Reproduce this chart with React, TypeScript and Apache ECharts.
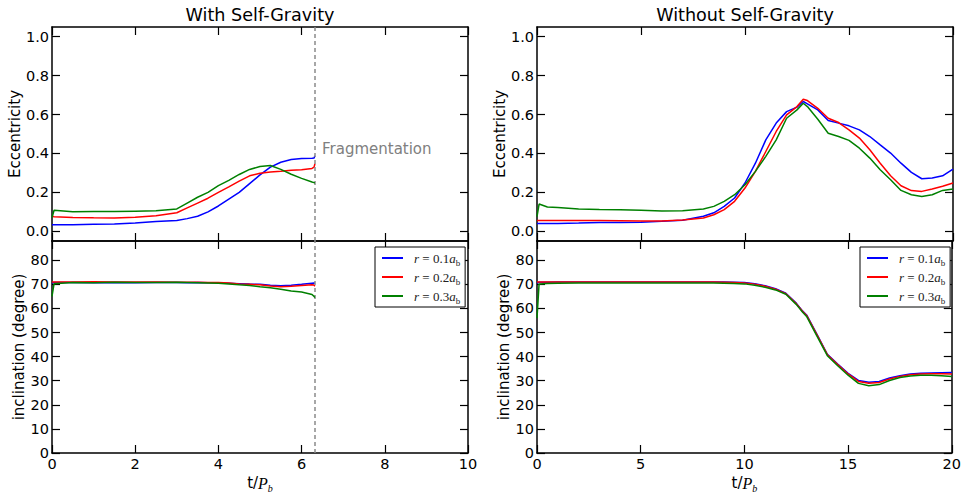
import React, { useEffect, useRef } from "react";
import * as echarts from "echarts";

// ---- time samples ----
const tLeft = [0, 0.05, 0.5, 1, 1.5, 2, 2.5, 3, 3.25, 3.5, 3.75, 4, 4.25, 4.5, 4.75, 5, 5.25, 5.5, 5.75, 6, 6.25, 6.3, 6.32];
const tRight = [0, 0.1, 0.5, 1, 2, 3, 4, 5, 6, 7, 8, 8.5, 9, 9.5, 10, 10.5, 11, 11.5, 12, 12.5, 12.8, 13, 13.5, 14, 14.5, 15, 15.5, 16, 16.5, 17, 17.5, 18, 18.5, 19, 19.5, 20];

// ---- With self-gravity: eccentricity ----
const eccLeft01 = [0.034, 0.034, 0.034, 0.036, 0.038, 0.042, 0.05, 0.055, 0.065, 0.077, 0.1, 0.13, 0.165, 0.2, 0.245, 0.29, 0.33, 0.355, 0.369, 0.374, 0.375, 0.377, 0.388];
const eccLeft02 = [0.077, 0.075, 0.071, 0.069, 0.068, 0.072, 0.08, 0.095, 0.12, 0.145, 0.17, 0.2, 0.228, 0.258, 0.285, 0.298, 0.305, 0.308, 0.314, 0.316, 0.323, 0.33, 0.347];
const eccLeft03 = [0.07, 0.108, 0.1, 0.101, 0.101, 0.103, 0.105, 0.115, 0.145, 0.175, 0.2, 0.235, 0.262, 0.292, 0.318, 0.333, 0.338, 0.318, 0.293, 0.272, 0.253, 0.25, 0.25];

// ---- With self-gravity: inclination ----
const incLeft01 = [70.5, 70.8, 70.8, 70.7, 70.8, 70.7, 70.8, 70.8, 70.7, 70.8, 70.7, 70.7, 70.5, 70.3, 70.1, 70.0, 69.6, 69.4, 69.6, 70.0, 70.5, 70.6, 70.3];
const incLeft02 = [71.0, 71.0, 71.0, 71.1, 71.0, 71.0, 71.0, 70.9, 70.9, 70.9, 70.8, 70.8, 70.6, 70.2, 70.0, 69.8, 69.3, 69.0, 69.2, 69.5, 69.8, 69.7, 69.2];
const incLeft03 = [65.0, 70.3, 70.8, 70.7, 70.9, 70.8, 70.8, 70.9, 70.8, 70.7, 70.6, 70.5, 70.2, 69.8, 69.5, 69.0, 68.6, 68.0, 67.2, 66.8, 65.8, 65.0, 64.5];

// ---- Without self-gravity: eccentricity ----
const eccRight01 = [0.04, 0.04, 0.04, 0.04, 0.042, 0.045, 0.045, 0.046, 0.051, 0.057, 0.077, 0.095, 0.128, 0.171, 0.248, 0.35, 0.47, 0.556, 0.615, 0.638, 0.667, 0.655, 0.624, 0.569, 0.556, 0.542, 0.521, 0.487, 0.444, 0.402, 0.35, 0.303, 0.27, 0.274, 0.285, 0.32];
const eccRight02 = [0.055, 0.055, 0.055, 0.056, 0.056, 0.055, 0.054, 0.053, 0.053, 0.058, 0.068, 0.085, 0.111, 0.154, 0.222, 0.308, 0.41, 0.513, 0.598, 0.641, 0.679, 0.672, 0.632, 0.581, 0.559, 0.521, 0.479, 0.419, 0.35, 0.285, 0.234, 0.209, 0.205, 0.217, 0.231, 0.248];
const eccRight03 = [0.075, 0.14, 0.125, 0.122, 0.115, 0.112, 0.111, 0.108, 0.104, 0.106, 0.115, 0.128, 0.154, 0.188, 0.239, 0.308, 0.385, 0.47, 0.581, 0.624, 0.658, 0.641, 0.576, 0.504, 0.487, 0.467, 0.427, 0.376, 0.316, 0.265, 0.21, 0.188, 0.179, 0.188, 0.21, 0.217];

// ---- Without self-gravity: inclination ----
const incRight01 = [70.5, 70.9, 70.9, 71.0, 71.0, 71.0, 71.0, 71.0, 71.0, 71.0, 71.0, 71.0, 71.0, 70.9, 70.8, 70.3, 69.4, 68.2, 66.3, 62.2, 59.0, 57.3, 49.2, 41.0, 36.9, 33.1, 30.1, 29.4, 29.7, 31.1, 32.1, 32.8, 33.1, 33.2, 33.3, 33.4];
const incRight02 = [71.0, 71.0, 71.0, 71.0, 71.0, 71.0, 71.0, 71.0, 71.0, 71.0, 71.0, 71.0, 70.9, 70.8, 70.6, 70.1, 69.2, 68.0, 66.1, 62.0, 58.8, 57.1, 49.0, 40.8, 36.7, 32.8, 29.7, 29.0, 29.3, 30.7, 31.8, 32.5, 32.8, 32.9, 32.9, 32.8];
const incRight03 = [56.0, 70.2, 70.4, 70.5, 70.6, 70.6, 70.6, 70.6, 70.6, 70.6, 70.6, 70.6, 70.5, 70.4, 70.2, 69.6, 68.8, 67.7, 65.9, 61.7, 58.5, 56.7, 48.5, 40.4, 36.2, 32.3, 28.9, 27.9, 28.4, 30.1, 31.3, 32.0, 32.3, 32.3, 32.1, 31.8];

const seriesNames = ["r=0.1a_b", "r=0.2a_b", "r=0.3a_b"];
const radii = ["0.1", "0.2", "0.3"];
const colors = ["#0000ff", "#ff0000", "#008000"];
const eccTicks = [0, 0.2, 0.4, 0.6, 0.8, 1.0];
const incTicks = [0, 10, 20, 30, 40, 50, 60, 70, 80];
const fragmentationTime = 6.32;
const titles = ["With Self-Gravity", "Without Self-Gravity"];

const zip = (t: number[], v: number[]) => t.map((x, i) => [x, v[i]]);

const FONT = "DejaVu Sans";
const SERIF = "Liberation Serif";

export default function App() {
  const ref = useRef<HTMLDivElement>(null);
  useEffect(() => {
    if (!ref.current) return;
    const chart = echarts.init(ref.current, undefined, { renderer: "svg" });

    const grids = [
      { left: 52, top: 27, width: 416, height: 214 },
      { left: 52, top: 241, width: 416, height: 215 },
      { left: 537, top: 27, width: 416, height: 214 },
      { left: 537, top: 241, width: 416, height: 215 },
    ];
    const lineStyle = { color: "#000", width: 1.5 };
    const tick = { show: true, inside: true, length: 8, lineStyle: { color: "#000", width: 1.2 } };
    const xName = {
      rich: {
        n: { fontFamily: FONT, fontSize: 15, color: "#000", lineHeight: 20 },
        p: { fontFamily: SERIF, fontStyle: "italic", fontSize: 16, color: "#000", lineHeight: 20 },
        s: { fontFamily: SERIF, fontStyle: "italic", fontSize: 10, color: "#000", lineHeight: 11, verticalAlign: "bottom" },
      },
    };
    const xAxes: any[] = [];
    const yAxes: any[] = [];
    for (let g = 0; g < 4; g++) {
      const right = g >= 2;
      const bottom = g % 2 === 1;
      const xmax = right ? 20 : 10;
      const xint = right ? 5 : 2;
      xAxes.push({
        type: "value", gridIndex: g, position: "bottom", min: 0, max: xmax, interval: xint,
        axisLine: { show: true, onZero: false, lineStyle },
        axisTick: tick, splitLine: { show: false },
        axisLabel: { show: bottom, fontFamily: FONT, fontSize: 14.5, color: "#000", margin: 3 },
        name: bottom ? "{n|t/}{p|P}{s|b}" : "",
        nameLocation: "middle", nameGap: 20, nameTextStyle: xName,
      });
    }
    for (let g = 0; g < 4; g++) {
      const xmax = g >= 2 ? 20 : 10;
      const xint = g >= 2 ? 5 : 2;
      xAxes.push({
        type: "value", gridIndex: g, position: "top", min: 0, max: xmax, interval: xint,
        axisLine: { show: true, onZero: false, lineStyle },
        axisTick: tick, splitLine: { show: false }, axisLabel: { show: false },
      });
    }
    for (let g = 0; g < 4; g++) {
      const bottom = g % 2 === 1;
      const ticks = bottom ? incTicks : eccTicks;
      yAxes.push({
        type: "value", gridIndex: g, position: "left",
        min: bottom ? 0 : -0.05, max: bottom ? 88 : 1.05,
        axisLine: { show: true, onZero: false, lineStyle },
        axisTick: { ...tick, customValues: ticks }, splitLine: { show: false },
        axisLabel: {
          customValues: ticks, fontFamily: FONT, fontSize: 14.5, color: "#000", margin: 3,
          formatter: (v: number) => (bottom ? String(Math.round(v)) : v.toFixed(1)),
        },
        name: bottom ? "inclination (degree)" : "Eccentricity",
        nameLocation: "middle", nameRotate: 90, nameGap: bottom ? 24 : 30,
        nameTextStyle: { fontFamily: FONT, fontSize: 15, color: "#000" },
      });
    }
    for (let g = 0; g < 4; g++) {
      const bottom = g % 2 === 1;
      const ticks = bottom ? incTicks : eccTicks;
      yAxes.push({
        type: "value", gridIndex: g, position: "right",
        min: bottom ? 0 : -0.05, max: bottom ? 88 : 1.05,
        axisLine: { show: true, onZero: false, lineStyle },
        axisTick: { ...tick, customValues: ticks }, splitLine: { show: false },
        axisLabel: { show: false },
      });
    }

    const panels = [
      { t: tLeft, data: [eccLeft01, eccLeft02, eccLeft03] },
      { t: tLeft, data: [incLeft01, incLeft02, incLeft03] },
      { t: tRight, data: [eccRight01, eccRight02, eccRight03] },
      { t: tRight, data: [incRight01, incRight02, incRight03] },
    ];
    const series: any[] = [];
    panels.forEach((p, g) => {
      p.data.forEach((vals, k) => {
        const s: any = {
          type: "line", name: seriesNames[k], xAxisIndex: g, yAxisIndex: g,
          data: zip(p.t, vals), showSymbol: false, symbol: "none",
          lineStyle: { color: colors[k], width: 1.5 }, itemStyle: { color: colors[k] },
          z: 3 + k,
        };
        if (g < 2 && k === 0) {
          s.markLine = {
            silent: true, symbol: "none", label: { show: false },
            lineStyle: { color: "#8a8a8a", type: [4, 3], width: 1.5 },
            data: [{ xAxis: fragmentationTime }],
          };
        }
        if (g === 0 && k === 0) {
          s.markPoint = {
            silent: true, symbol: "circle", symbolSize: 0,
            label: { show: true, position: "right", distance: 0, formatter: "Fragmentation", color: "#808080", fontFamily: FONT, fontSize: 15 },
            data: [{ coord: [6.49, 0.424] }],
          };
        }
        series.push(s);
      });
    });

    const legendRich = {
      g: { width: 6, height: 18 },
      i: { fontFamily: SERIF, fontStyle: "italic", fontSize: 13, color: "#222", height: 18, lineHeight: 18 },
      n: { fontFamily: SERIF, fontSize: 13, color: "#222", height: 18, lineHeight: 18 },
      s: { fontFamily: SERIF, fontSize: 9, color: "#222", lineHeight: 10, verticalAlign: "bottom" },
    };
    const legendBase = (left: number) => ({
      left, top: 247, orient: "vertical", icon: "rect", itemWidth: 21, itemHeight: 2, itemGap: 1,
      padding: [2, 5, 2, 7], borderColor: "#000", borderWidth: 1, backgroundColor: "#fff",
      data: seriesNames,
      formatter: (name: string) => `{g|}{i|r}{n| = ${radii[seriesNames.indexOf(name)]}}{i|a}{s|b}`,
      textStyle: { rich: legendRich },
    });

    chart.setOption({
      animation: false,
      backgroundColor: "#fff",
      title: [
        { text: titles[0], left: 260, top: 6, textAlign: "center", padding: 0, textStyle: { fontFamily: FONT, fontSize: 17.6, fontWeight: "normal", color: "#000" } },
        { text: titles[1], left: 745, top: 6, textAlign: "center", padding: 0, textStyle: { fontFamily: FONT, fontSize: 17.6, fontWeight: "normal", color: "#000" } },
      ],
      legend: [legendBase(375), legendBase(860)],
      grid: grids.map((g) => ({ ...g, containLabel: false })),
      xAxis: xAxes,
      yAxis: yAxes,
      series,
    });
    return () => chart.dispose();
  }, []);
  return <div ref={ref} style={{ position: "fixed", left: 0, top: 0, width: 964, height: 494 }} />;
}
